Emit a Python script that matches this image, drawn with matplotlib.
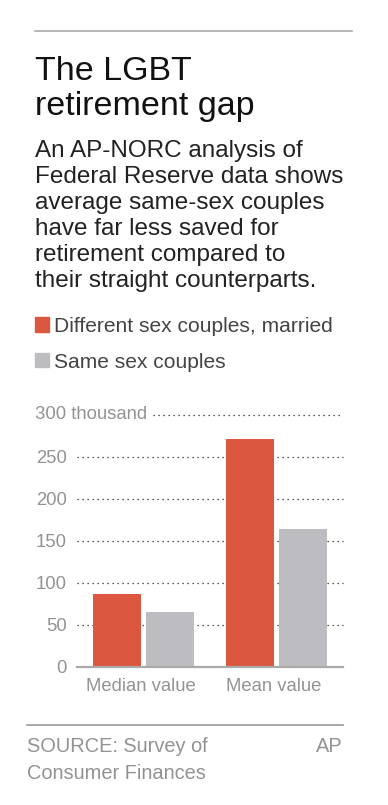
import matplotlib
matplotlib.use("Agg")
import matplotlib.pyplot as plt
import numpy as np

plt.rcParams['font.family'] = ['Liberation Sans', 'DejaVu Sans']

categories = ["Median value", "Mean value"]
series_names = ["Different sex couples, married", "Same sex couples"]
different_sex = [87, 271]   # thousand dollars
same_sex = [65, 164]
yticks = [0, 50, 100, 150, 200, 250]
top_label = "300 thousand"

RED = "#dc573f"
GRAY = "#bdbdc1"
TICK_GRAY = "#939393"

W, H = 388, 805
fig = plt.figure(figsize=(W / 100, H / 100), dpi=100)


def fx(x):
    return x / W


def fy(y):
    return 1 - y / H


# top rule
fig.add_artist(plt.Line2D([fx(35), fx(352)], [fy(31), fy(31)], color="#aaaaaa", lw=1.2))

# title
fig.text(fx(35), fy(79.5), "The LGBT", fontsize=24.5, color="#111111", va="baseline")
fig.text(fx(35), fy(114.5), "retirement gap", fontsize=24.5, color="#111111", va="baseline")

subtitle = ["An AP-NORC analysis of",
            "Federal Reserve data shows",
            "average same-sex couples",
            "have far less saved for",
            "retirement compared to",
            "their straight counterparts."]
for i, line in enumerate(subtitle):
    fig.text(fx(35), fy(156.5 + i * 26.1), line, fontsize=17.5, color="#222222", va="baseline")

# legend
legend_y = [332, 367.5]
for name, col, yb in zip(series_names, [RED, GRAY], legend_y):
    fig.add_artist(plt.Rectangle((fx(35), fy(yb)), 14 / W, 14.5 / H, color=col,
                                 transform=fig.transFigure))
    fig.text(fx(53.5), fy(yb), name, fontsize=15.1, color="#444444", va="baseline")

# chart axes
ax_left, ax_right = 76.7, 342.7
y0, y300 = 666.7, 414.7
ax = fig.add_axes([fx(ax_left), fy(y0), (ax_right - ax_left) / W, (y0 - y300) / H])
ax.set_xlim(-0.5, 1.5)
ax.set_ylim(0, 300)

x = np.arange(len(categories))
off = 0.199
bw = 0.36
ax.bar(x - off, different_sex, bw, color=RED, zorder=3)
ax.bar(x + off, same_sex, bw, color=GRAY, zorder=3)

DOT = (0, (1, 3.0))
for v in yticks[1:]:
    ax.plot([-0.5, 1.5], [v, v], linestyle=DOT, color="#222222", lw=0.9,
            zorder=1, clip_on=False)
# 300 line starts after the label
x300 = -0.5 + (153 - ax_left) / 133.0
ax.plot([x300, 1.5], [300, 300], linestyle=DOT, color="#222222", lw=0.9,
        zorder=1, clip_on=False)
ax.text(-0.5 - (ax_left - 35) / 133.0, 300, top_label, fontsize=13.3, color=TICK_GRAY,
        va="center", ha="left")

ax.axhline(0, color="#aaaaaa", lw=1.6, zorder=4, clip_on=False)

for s in ax.spines.values():
    s.set_visible(False)
ax.set_yticks(yticks)
ax.set_yticklabels([str(v) for v in yticks])
ax.tick_params(axis="y", length=0, pad=7.2, labelsize=13.3, labelcolor=TICK_GRAY)
ax.set_xticks(x - 0.02)
ax.set_xticklabels(categories)
ax.tick_params(axis="x", length=0, pad=8, labelsize=13.3, labelcolor=TICK_GRAY)

# footer
fig.add_artist(plt.Line2D([fx(27), fx(343)], [fy(725), fy(725)], color="#999999", lw=1.2))
fig.text(fx(27), fy(752), "SOURCE: Survey of", fontsize=14.4, color=TICK_GRAY, va="baseline")
fig.text(fx(27), fy(778.5), "Consumer Finances", fontsize=14.4, color=TICK_GRAY, va="baseline")
fig.text(fx(343), fy(752), "AP", fontsize=14.4, color=TICK_GRAY, va="baseline", ha="right")

fig.savefig("out.png", dpi=100, facecolor="white")
